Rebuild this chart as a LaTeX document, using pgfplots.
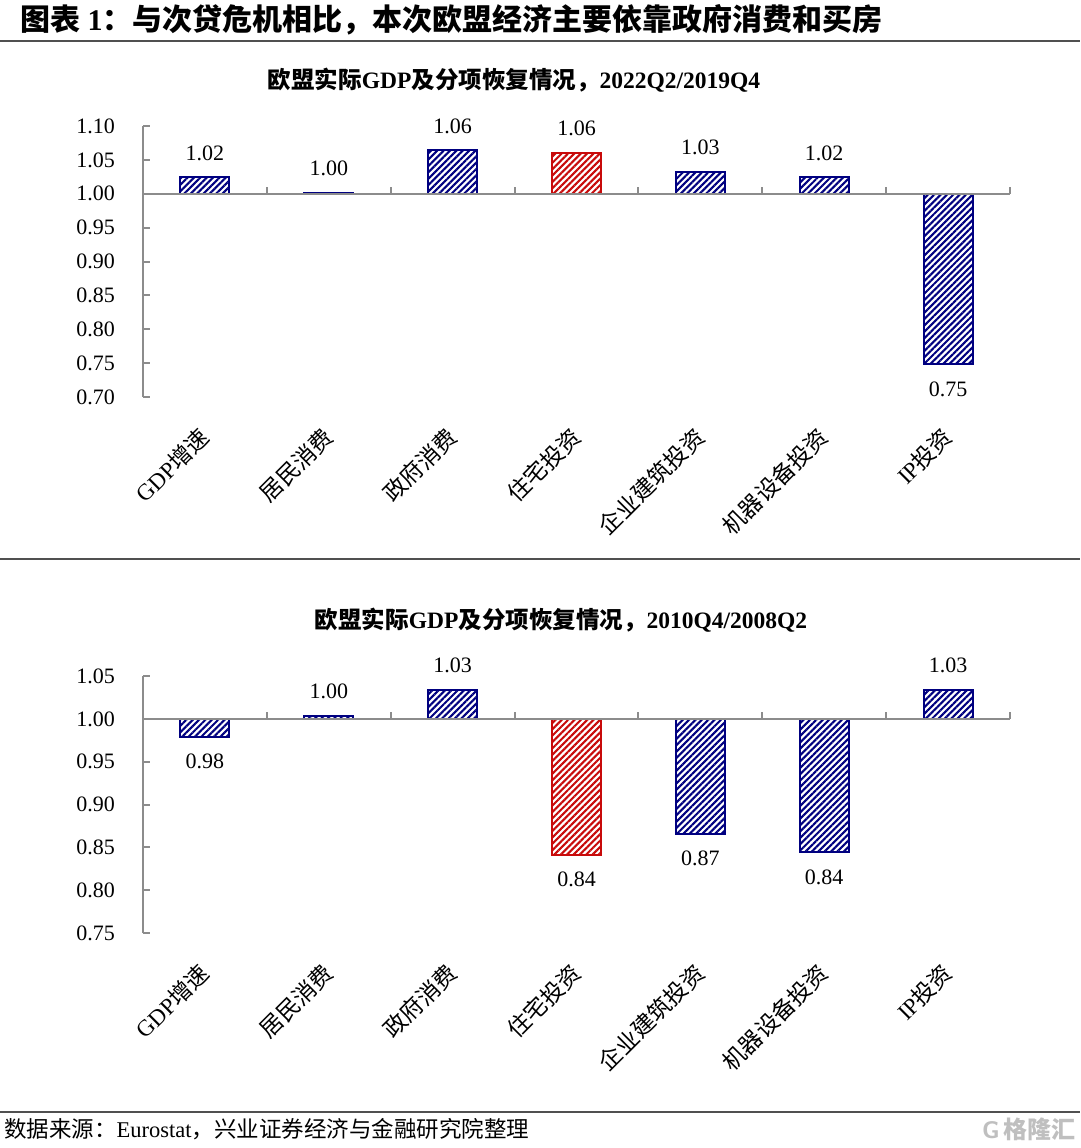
\documentclass[border=0pt]{standalone}
\usepackage{fontspec}
\setmainfont{Liberation Serif}
\newfontfamily\cjk{Noto Sans CJK SC}
\usepackage{pgfplots}
\pgfplotsset{compat=1.18}
\usepackage{pgfplotstable}
\usetikzlibrary{patterns.meta}
\definecolor{navyc}{RGB}{0,0,128}
\definecolor{redc}{RGB}{200,10,10}
\definecolor{axgray}{RGB}{140,140,140}
\definecolor{rulegray}{RGB}{80,80,80}

% upper chart: 2022Q2/2019Q4 (above / below the 1.00 line)
\pgfplotstableread{
x v
0 1.024
1 1.001
2 1.064
4 1.032
5 1.024
}\upblue
\pgfplotstableread{
x v
6 0.748
}\upblueneg
\pgfplotstableread{
x v
3 1.0605
}\upred
% lower chart: 2010Q4/2008Q2
\pgfplotstableread{
x v
1 1.003
2 1.034
6 1.034
}\loblue
\pgfplotstableread{
x v
0 0.979
4 0.866
5 0.844
}\loblueneg
\pgfplotstableread{
x v
3 0.841
}\lored

\pgfplotsset{
  mychart/.style={
    scale only axis, width=867pt, clip=false,
    xmin=-0.5, xmax=6.5,
    axis x line=bottom, axis y line=left,
    axis line style={-},
    x axis line style={draw=none},
    y axis line style={draw=axgray, line width=2.5pt},
    xtick={0,...,6},
    xticklabels={{GDP\cjk 增速},{\cjk 居民消费},{\cjk 政府消费},{\cjk 住宅投资},{\cjk 企业建筑投资},{\cjk 机器设备投资},{IP\cjk 投资}},
    xtick style={draw=none},
    xticklabel style={rotate=45, anchor=east, inner sep=0pt, font=\fontsize{23}{23}\selectfont},
    xticklabel shift=32pt,
    ytick align=inside,
    major tick length=7pt,
    ytick style={draw=axgray, line width=2pt},
    yticklabel style={inner sep=0pt, font=\fontsize{22}{22}\selectfont},
    yticklabel shift=28pt,
  },
  bars/.style={
    ybar, bar width=49pt, bar shift=0pt, line width=2pt,
    point meta=explicit,
    nodes near coords={\pgfmathprintnumber[fixed,fixed zerofill,precision=2,assume math mode=true]{\pgfplotspointmeta}},
    every node near coord/.style={font=\fontsize{22}{22}\selectfont, inner xsep=0pt, inner ysep=16pt, text=black, anchor=south},
  },
  below/.style={every node near coord/.append style={anchor=north}},
  bluebar/.style={bars, draw=navyc, pattern={Lines[angle=45,distance=4.5pt,line width=2.1pt]}, pattern color=navyc},
  redbar/.style={bars, draw=redc, pattern={Lines[angle=45,distance=4.5pt,line width=2.1pt]}, pattern color=redc},
}

\begin{document}
\begin{tikzpicture}[x=1pt,y=1pt]
\useasboundingbox (0,0) rectangle (1080,-1148);
\fill[white] (0,0) rectangle (1080,-1148);

% header
\node[anchor=west, inner sep=0pt, font=\fontsize{30}{30}\selectfont\bfseries] at (20,-20)
  {{\cjk 图表} 1{\cjk ：与次贷危机相比，本次欧盟经济主要依靠政府消费和买房}};
\draw[rulegray, line width=2pt] (0,-41) -- (1080,-41);

% upper title
\node[inner sep=0pt, font=\fontsize{23.5}{23.5}\selectfont\bfseries] at (514,-80)
  {{\cjk 欧盟实际}GDP{\cjk 及分项恢复情况，}2022Q2/2019Q4};

\begin{axis}[mychart, at={(143pt,-397pt)}, anchor=south west, height=271pt,
  ymin=-0.30, ymax=0.10,
  ytick={-0.30,-0.25,-0.20,-0.15,-0.10,-0.05,0,0.05,0.10},
  yticklabels={0.70,0.75,0.80,0.85,0.90,0.95,1.00,1.05,1.10}]
\addplot[bluebar] table[x=x, y expr=\thisrow{v}-1, meta=v] {\upblue};
\addplot[bluebar, below] table[x=x, y expr=\thisrow{v}-1, meta=v] {\upblueneg};
\addplot[redbar] table[x=x, y expr=\thisrow{v}-1, meta=v] {\upred};
\draw[axgray, line width=2.5pt] (axis cs:-0.5,0) -- (axis cs:6.5,0);
\pgfplotsinvokeforeach{0.5,1.5,2.5,3.5,4.5,5.5,6.5}{\draw[axgray, line width=2pt] (axis cs:#1,0) -- ++(0pt,7pt);}
\end{axis}

\draw[rulegray, line width=1.5pt] (0,-559) -- (1080,-559);

% lower title
\node[inner sep=0pt, font=\fontsize{23.5}{23.5}\selectfont\bfseries] at (561,-620)
  {{\cjk 欧盟实际}GDP{\cjk 及分项恢复情况，}2010Q4/2008Q2};

\begin{axis}[mychart, at={(143pt,-933pt)}, anchor=south west, height=257pt,
  ymin=-0.25, ymax=0.05,
  ytick={-0.25,-0.20,-0.15,-0.10,-0.05,0,0.05},
  yticklabels={0.75,0.80,0.85,0.90,0.95,1.00,1.05}]
\addplot[bluebar] table[x=x, y expr=\thisrow{v}-1, meta=v] {\loblue};
\addplot[bluebar, below] table[x=x, y expr=\thisrow{v}-1, meta=v] {\loblueneg};
\addplot[redbar, below] table[x=x, y expr=\thisrow{v}-1, meta=v] {\lored};
\draw[axgray, line width=2.5pt] (axis cs:-0.5,0) -- (axis cs:6.5,0);
\pgfplotsinvokeforeach{0.5,1.5,2.5,3.5,4.5,5.5,6.5}{\draw[axgray, line width=2pt] (axis cs:#1,0) -- ++(0pt,7pt);}
\end{axis}

% footer
\draw[rulegray, line width=1.5pt] (0,-1112) -- (1080,-1112);
\node[anchor=west, inner sep=0pt, font=\fontsize{22.5}{22.5}\selectfont] at (4,-1129)
  {{\cjk 数据来源：}Eurostat{\cjk ，兴业证券经济与金融研究院整理}};
\node[anchor=east, inner sep=0pt, text=black!25, font=\fontsize{24}{24}\selectfont\bfseries] at (1076,-1129)
  {{\sffamily G}\,{\cjk 格隆汇}};
\end{tikzpicture}
\end{document}
